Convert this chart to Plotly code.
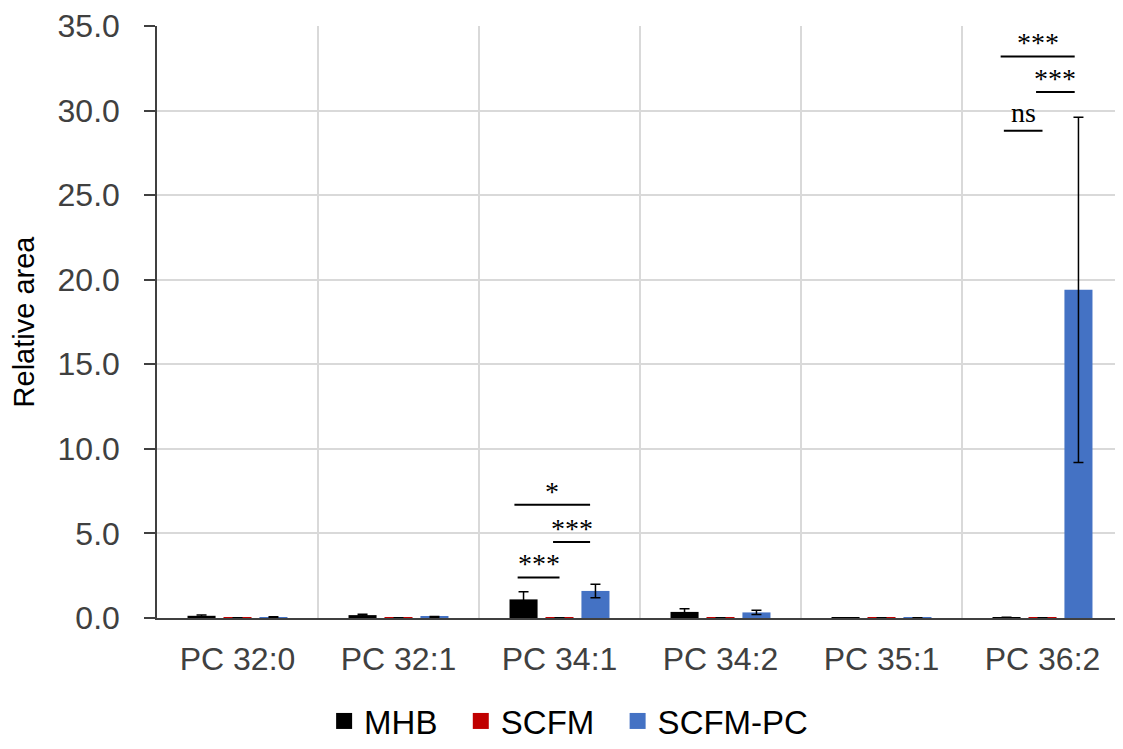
import plotly.graph_objects as go

CATEGORIES = ["PC 32:0", "PC 32:1", "PC 34:1", "PC 34:2", "PC 35:1", "PC 36:2"]

MHB = [0.13, 0.17, 1.10, 0.36, 0.02, 0.05]
MHB_ERR = [0.05, 0.05, 0.45, 0.18, 0.0, 0.0]
SCFM = [0.02, 0.02, 0.02, 0.02, 0.02, 0.02]
SCFM_ERR = [0.0, 0.0, 0.0, 0.0, 0.0, 0.0]
SCFM_PC = [0.05, 0.06, 1.60, 0.33, 0.02, 19.4]
SCFM_PC_ERR = [0.03, 0.03, 0.40, 0.13, 0.0, 10.2]

SERIES = [
    ("MHB", MHB, MHB_ERR, "#000000"),
    ("SCFM", SCFM, SCFM_ERR, "#C00000"),
    ("SCFM-PC", SCFM_PC, SCFM_PC_ERR, "#4472C4"),
]

# significance brackets: (category index, x start offset, x end offset, y level, label)
BRACKETS = [
    (2, -0.26, 0.0, 2.4, "***"),
    (2, -0.04, 0.19, 4.5, "***"),
    (2, -0.28, 0.19, 6.7, "*"),
    (5, -0.24, 0.0, 28.8, "ns"),
    (5, -0.04, 0.2, 31.1, "***"),
    (5, -0.26, 0.2, 33.2, "***"),
]

TEXT_COLOR = "#404040"

fig = go.Figure()
for name, values, errors, color in SERIES:
    fig.add_trace(
        go.Bar(
            name=name,
            x=CATEGORIES,
            y=values,
            showlegend=False,
            marker={"color": color, "line": {"width": 0}},
            error_y={
                "type": "data",
                "array": errors,
                "visible": True,
                "color": "#000000",
                "thickness": 1.5,
                "width": 5,
            },
        )
    )

# legend entries with bigger square swatches
for name, _, _, color in SERIES:
    fig.add_trace(
        go.Scatter(
            name=name + "\u00a0\u00a0",
            x=[None],
            y=[None],
            mode="markers",
            marker={"symbol": "square", "size": 19, "color": color},
            showlegend=True,
        )
    )

for idx, x0, x1, level, label in BRACKETS:
    fig.add_shape(
        type="line",
        xref="x",
        yref="y",
        x0=idx + x0,
        x1=idx + x1,
        y0=level,
        y1=level,
        line={"color": "#000000", "width": 2},
    )
    fig.add_annotation(
        x=idx + (x0 + x1) / 2,
        y=level,
        xref="x",
        yref="y",
        text=label,
        showarrow=False,
        yanchor="bottom",
        yshift=-4 if label.startswith("*") else 1,
        font={"family": "Liberation Serif", "size": 28, "color": "#000000"},
    )

# page body has an 8px margin; the figure runs to the right edge of the window
fig.update_layout(
    width=1115,
    height=741,
    barmode="group",
    bargap=0.33,
    bargroupgap=0.22,
    plot_bgcolor="#FFFFFF",
    paper_bgcolor="#FFFFFF",
    margin={"l": 149, "r": 0, "t": 16, "b": 123},
    font={"family": "Liberation Sans, Arial, sans-serif", "size": 32, "color": TEXT_COLOR},
    showlegend=True,
    legend={
        "orientation": "h",
        "x": 0.173,
        "xanchor": "left",
        "y": -0.1744,
        "yanchor": "middle",
        "font": {"size": 33, "color": "#000000"},
        "itemwidth": 30,
    },
)
fig.update_xaxes(
    showline=True,
    linecolor=TEXT_COLOR,
    linewidth=1.5,
    showgrid=True,
    gridcolor="#D9D9D9",
    gridwidth=2,
    tickson="boundaries",
    ticks="",
    ticklabelstandoff=12,
    tickfont={"size": 32, "color": TEXT_COLOR},
)
fig.update_yaxes(
    range=[0, 35],
    dtick=5,
    tickformat=".1f",
    showline=True,
    linecolor=TEXT_COLOR,
    linewidth=1.5,
    ticks="outside",
    ticklen=11,
    tickwidth=1.5,
    tickcolor=TEXT_COLOR,
    ticklabelstandoff=18,
    ticklabeloverflow="allow",
    showgrid=True,
    gridcolor="#D9D9D9",
    gridwidth=2,
    zeroline=False,
    title={"text": "Relative area", "font": {"size": 29, "color": "#000000"}, "standoff": 16},
    tickfont={"size": 32, "color": TEXT_COLOR},
)

fig.write_html("out.html")
